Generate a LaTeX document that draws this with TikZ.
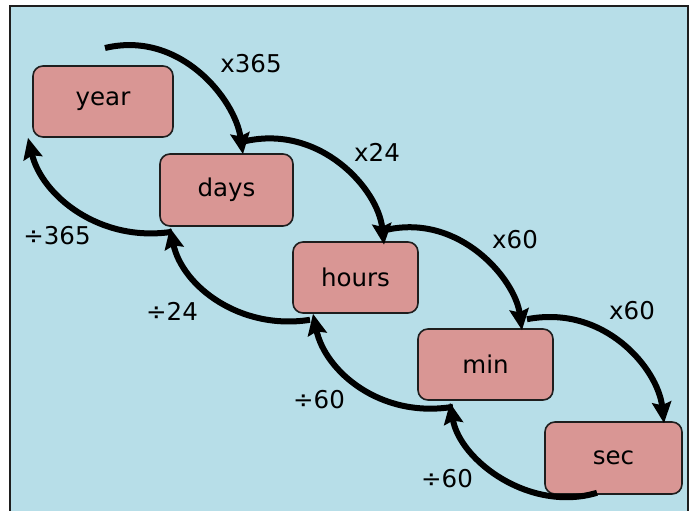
\documentclass[tikz,border=0pt]{standalone}
\usepackage{fontspec}
\setmainfont{DejaVu Sans}
\usetikzlibrary{arrows.meta,calc}
\definecolor{bgblue}{RGB}{183,222,232}
\definecolor{boxpink}{RGB}{217,150,148}
\definecolor{edge}{RGB}{30,30,30}
\tikzset{
  unitbox/.style={draw=edge, line width=1.6pt, fill=boxpink, rounded corners=10pt,
    font=\fontsize{24.5}{28}\selectfont, inner sep=0pt},
  conv/.style={line width=6pt, -{Stealth[length=21pt,width=19pt,inset=3pt]}},
  lab/.style={font=\fontsize{24.5}{28}\selectfont, inner sep=0pt}
}
\begin{document}
\begin{tikzpicture}[x=1pt,y=-1pt]
\useasboundingbox (0,0) rectangle (697,511);
\fill[white] (0,0) rectangle (697,511);
\draw[draw=edge, line width=2pt, fill=bgblue] (10,6) rectangle (688,530);

\node[unitbox, minimum width=140pt, minimum height=71pt] (year)  at (103,101.5) {year};
\node[unitbox, minimum width=133pt, minimum height=72pt] (days)  at (226.5,190) {days};
\node[unitbox, minimum width=125pt, minimum height=71pt] (hours) at (355.5,277.5) {hours};
\node[unitbox, minimum width=135pt, minimum height=71pt] (min)   at (485.5,364.5) {min};
\node[unitbox, minimum width=137pt, minimum height=72pt] (sec)   at (613.5,458) {sec};

\coordinate (top) at (105,48);

% multiply arrows
\draw[conv] (top) .. controls +(75,-18) and +(-8,-55) .. ($(days.north)+(16.5,1)$);
\draw[conv] ($(days.north)+(18.5,-12)$) .. controls +(75,-17) and +(-6,-56) .. ($(hours.north)+(28.5,3.5)$);
\draw[conv] ($(hours.north)+(31.5,-11.5)$) .. controls +(73,-16) and +(-7,-51) .. ($(min.north)+(36.5,2)$);
\draw[conv] ($(min.north)+(41.5,-9)$) .. controls +(78,-15) and +(-6,-54) .. ($(sec.north)+(50.5,2)$);

% divide arrows
\draw[conv] ($(sec.south)+(-16.5,-2)$) .. controls +(-67,20) and +(10,58) .. ($(min.south)+(-35.5,2)$);
\draw[conv] ($(min.south)+(-32.5,6)$) .. controls +(-73,12) and +(12,57) .. ($(hours.south)+(-42.5,0)$);
\draw[conv] ($(hours.south)+(-45.5,6)$) .. controls +(-70,11) and +(12,58) .. ($(days.south)+(-56.5,1)$);
\draw[conv] ($(days.south)+(-54.5,5)$) .. controls +(-72,11) and +(14,58) .. ($(year.south)+(-75,0)$);

\node[lab] (m1) at (251,64) {x365};
\node[lab] (m2) at (377,152) {x24};
\node[lab] (m3) at (515,240) {x60};
\node[lab] (m4) at (632,311) {x60};
\node[lab] (d1) at (57,236) {÷365};
\node[lab] (d2) at (172,311) {÷24};
\node[lab] (d3) at (319,400) {÷60};
\node[lab] (d4) at (447,479) {÷60};
\end{tikzpicture}
\end{document}
